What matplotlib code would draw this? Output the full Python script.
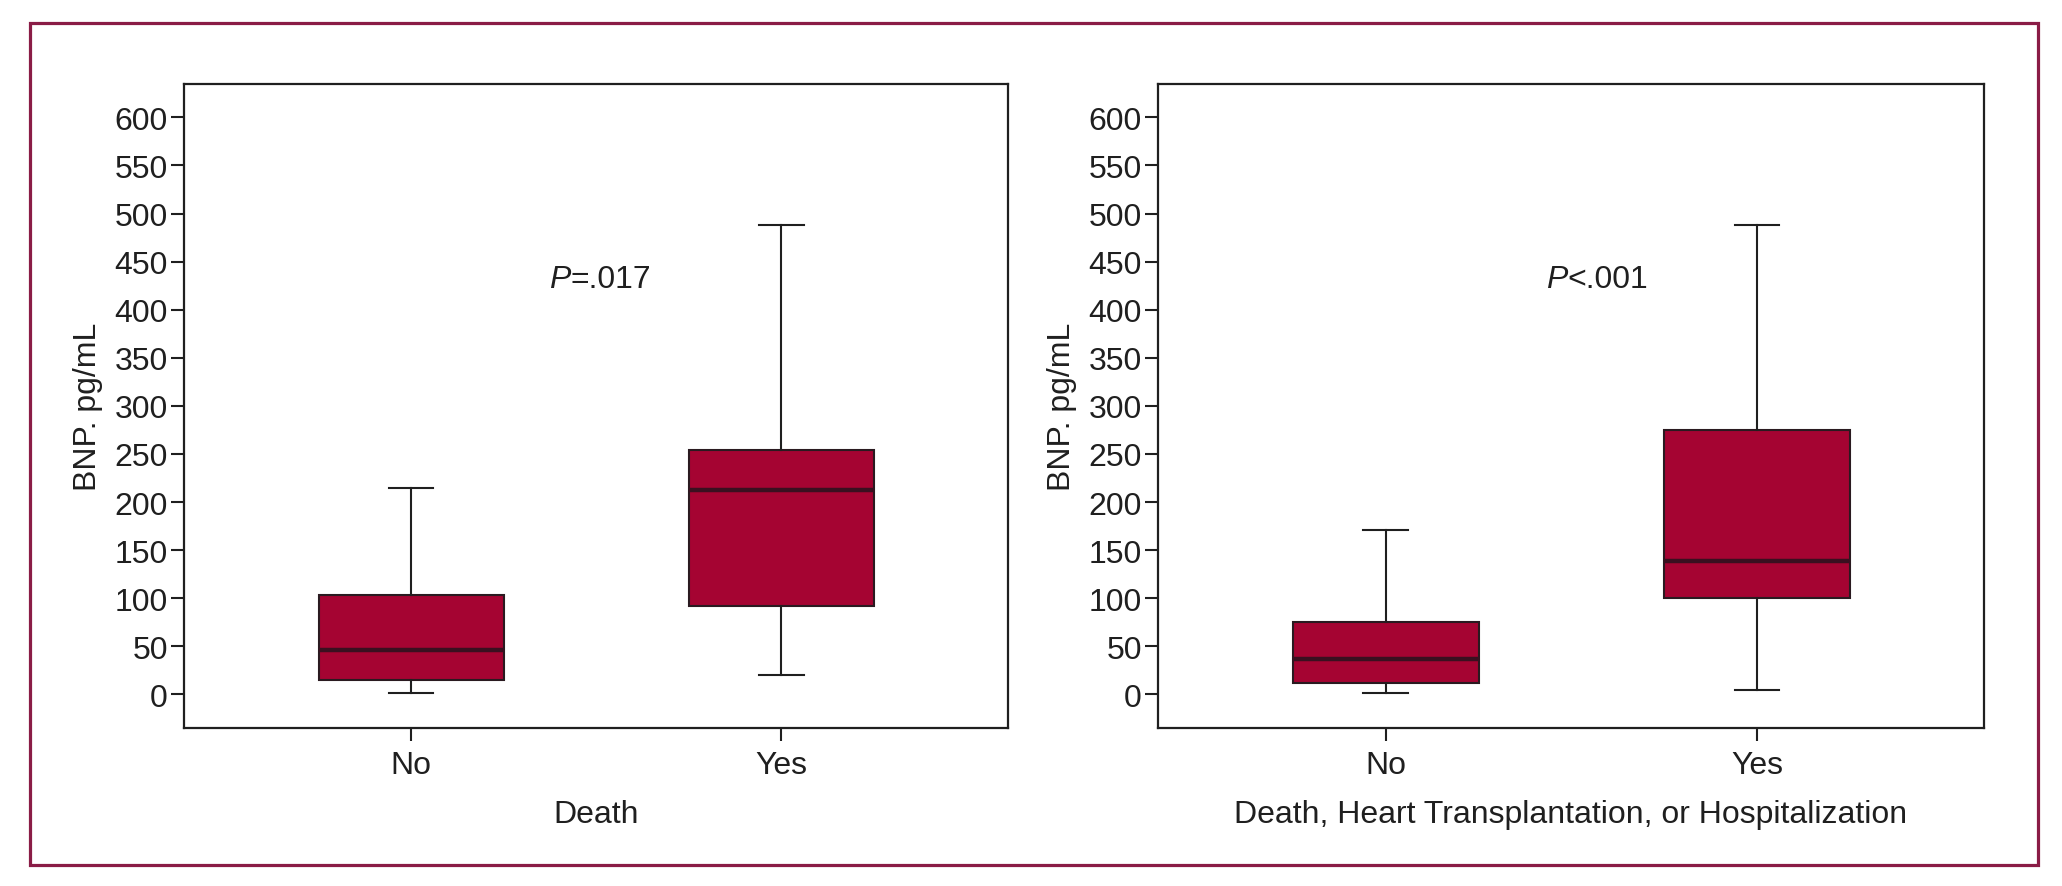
import matplotlib
matplotlib.use("Agg")
import matplotlib.pyplot as plt
from matplotlib import font_manager
from matplotlib.patches import Rectangle

# values (BNP, pg/mL)
groups = ["No", "Yes"]

death_whislo = [1.5, 20]
death_q1 = [15, 91.5]
death_med = [46, 212]
death_q3 = [103, 254]
death_whishi = [215, 488]

combo_whislo = [1, 5]
combo_q1 = [12, 100]
combo_med = [37, 139]
combo_q3 = [75, 275]
combo_whishi = [171, 488]

yticks = list(range(0, 601, 50))
p_texts = [("P", "=.017"), ("P", "<.001")]
xlabels = ["Death", "Death, Heart Transplantation, or Hospitalization"]
ylabel = "BNP. pg/mL"

# condensed font if we have it
names = {f.name for f in font_manager.fontManager.ttflist}
family = ["Liberation Sans Narrow"] if "Liberation Sans Narrow" in names else ["Liberation Sans"]
plt.rcParams["font.family"] = family + ["DejaVu Sans"]

FILL = "#a50432"
EDGE = "#2a1a20"
INK = "#1f1f1f"
BORDER = "#8a1c46"
FS = 23


def make_stats(lo, q1, med, q3, hi):
    stats = []
    for i in range(len(groups)):
        stats.append({"whislo": lo[i], "q1": q1[i], "med": med[i],
                      "q3": q3[i], "whishi": hi[i], "fliers": [],
                      "label": groups[i]})
    return stats


fig = plt.figure(figsize=(20.62, 8.87), dpi=100)

# outer frame around both panels
fig.patches.append(Rectangle((0.0146, 0.0237), 0.9738, 0.9492, transform=fig.transFigure,
                             fill=False, edgecolor=BORDER, linewidth=2.3))

ax1 = fig.add_axes([0.0892, 0.1781, 0.3996, 0.7264])
ax2 = fig.add_axes([0.5615, 0.1781, 0.4007, 0.7264])

panels = [
    (ax1, make_stats(death_whislo, death_q1, death_med, death_q3, death_whishi)),
    (ax2, make_stats(combo_whislo, combo_q1, combo_med, combo_q3, combo_whishi)),
]

for k, (ax, stats) in enumerate(panels):
    ax.bxp(stats, positions=[1, 2], widths=0.5, capwidths=0.12, patch_artist=True,
           showfliers=False,
           boxprops=dict(facecolor=FILL, edgecolor=EDGE, linewidth=1.5),
           medianprops=dict(color="#3a1020", linewidth=3.2),
           whiskerprops=dict(color=INK, linewidth=1.5),
           capprops=dict(color=INK, linewidth=1.5))

    ax.set_xlim(0.386, 2.612)
    ax.set_ylim(-35, 635)
    ax.set_yticks(yticks)
    ax.set_xticks([1, 2])
    ax.set_xticklabels(groups)
    ax.tick_params(axis="both", labelsize=FS, length=9.5, width=1.5, color=INK,
                   labelcolor=INK)
    ax.tick_params(axis="y", pad=2)
    ax.tick_params(axis="x", pad=6)
    for sp in ax.spines.values():
        sp.set_linewidth(1.6)
        sp.set_color(INK)

    ax.set_xlabel(xlabels[k], fontsize=FS, color=INK)
    ax.xaxis.set_label_coords(0.5, -0.11)
    ax.set_ylabel(ylabel, fontsize=FS, color=INK)
    ax.yaxis.set_label_coords(-0.098, 0.5)

    # p-value, italic P
    px = 1.43 if k == 0 else 1.49
    ax.text(px, 424, p_texts[k][0], style="italic", fontsize=FS, color=INK,
            ha="right", va="baseline")
    ax.text(px, 424, p_texts[k][1], fontsize=FS, color=INK,
            ha="left", va="baseline")

fig.savefig("out.png", dpi=100, facecolor="white")
